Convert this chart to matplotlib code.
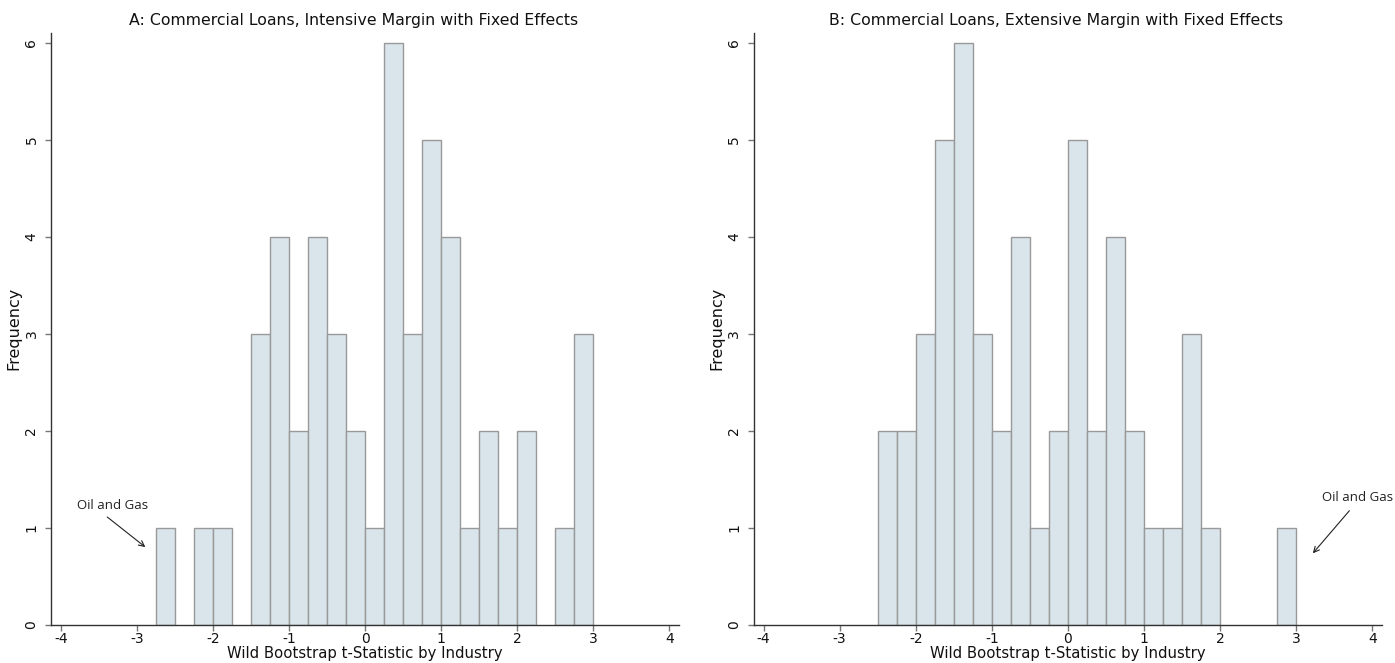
import matplotlib
matplotlib.use("Agg")
import matplotlib.pyplot as plt
import numpy as np

# Data: histogram bins (left edges, width 0.25) and frequencies
bin_width = 0.25
left_edges_a = [-2.75, -2.25, -2.0, -1.5, -1.25, -1.0, -0.75, -0.5, -0.25, 0.0,
                0.25, 0.5, 0.75, 1.0, 1.25, 1.5, 1.75, 2.0, 2.5, 2.75]
counts_a = [1, 1, 1, 3, 4, 2, 4, 3, 2, 1,
            6, 3, 5, 4, 1, 2, 1, 2, 1, 3]

left_edges_b = [-2.5, -2.25, -2.0, -1.75, -1.5, -1.25, -1.0, -0.75, -0.5, -0.25,
                0.0, 0.25, 0.5, 0.75, 1.0, 1.25, 1.5, 1.75, 2.75]
counts_b = [2, 2, 3, 5, 6, 3, 2, 4, 1, 2,
            5, 2, 4, 2, 1, 1, 3, 1, 1]

titles = ["A: Commercial Loans, Intensive Margin with Fixed Effects",
          "B: Commercial Loans, Extensive Margin with Fixed Effects"]
xlabel = "Wild Bootstrap t-Statistic by Industry"
ylabel = "Frequency"
xticks = [-4, -3, -2, -1, 0, 1, 2, 3, 4]
yticks = [0, 1, 2, 3, 4, 5, 6]
annot_text = "Oil and Gas"
# annotation (text position, arrow tail, arrow head) in data coords
annot_a = {"text": (-3.32, 1.23), "tail": (-3.39, 1.11), "head": (-2.89, 0.80)}
annot_b = {"text": (3.81, 1.31), "tail": (3.70, 1.175), "head": (3.22, 0.736)}

W, H = 1395, 663
fig = plt.figure(figsize=(W / 100, H / 100), dpi=100)

bar_face = "#d9e5ea"
bar_edge = "#999999"
spine_col = "#333333"

axes_px = [(51, 679), (753.7, 1381.7)]
bottom_px, top_px = 624.7, 33

datasets = [(left_edges_a, counts_a, annot_a), (left_edges_b, counts_b, annot_b)]

for i, ((l, r), (edges, counts, ann)) in enumerate(zip(axes_px, datasets)):
    ax = fig.add_axes([l / W, 1 - bottom_px / H, (r - l) / W, (bottom_px - top_px) / H])
    ax.bar(edges, counts, width=bin_width, align="edge", color=bar_face,
           edgecolor=bar_edge, linewidth=1.0, zorder=2)
    ax.set_xlim(-4.13, 4.125)
    ax.set_ylim(0, 6.1)
    ax.set_xticks(xticks)
    ax.set_xticklabels([str(t) for t in xticks])
    ax.set_yticks(yticks)
    ax.set_yticklabels([str(t) for t in yticks], rotation=90, va="center")
    for s in ["top", "right"]:
        ax.spines[s].set_visible(False)
    for s in ["left", "bottom"]:
        ax.spines[s].set_color(spine_col)
        ax.spines[s].set_linewidth(1.0)
    ax.tick_params(axis="both", direction="out", length=4, width=1.0,
                   color="#777777", labelsize=10, labelcolor="#111111")
    ax.tick_params(axis="x", pad=1)
    ax.tick_params(axis="y", pad=5)
    ax.set_title(titles[i], fontsize=11.3, color="#111111", pad=6, x=0.481)
    ax.set_xlabel(xlabel, fontsize=10.7, color="#111111", labelpad=0)
    ax.set_ylabel(ylabel, fontsize=11.5, color="#111111", labelpad=2)
    ax.annotate("", xy=ann["head"], xytext=ann["tail"],
                arrowprops=dict(arrowstyle="->", color="#222222", lw=0.8,
                                shrinkA=0, shrinkB=0))
    ax.text(ann["text"][0], ann["text"][1], annot_text, ha="center", va="center",
            fontsize=9.5, family="Open Sans", color="#222222")

fig.savefig("out.png", dpi=100)
